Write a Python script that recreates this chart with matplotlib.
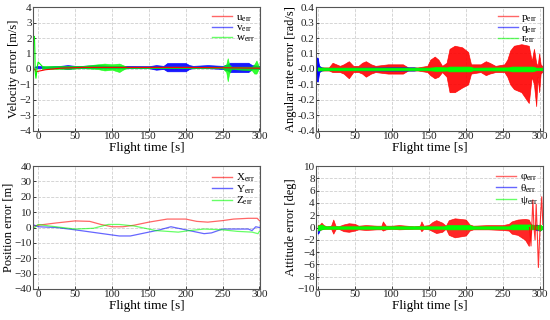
import matplotlib
matplotlib.use("Agg")
import matplotlib.pyplot as plt
from matplotlib.lines import Line2D
import numpy as np

plt.rcParams['font.family'] = ['Liberation Serif', 'DejaVu Serif']
plt.rcParams['mathtext.fontset'] = 'custom'
plt.rcParams['mathtext.rm'] = 'Liberation Serif'
plt.rcParams['mathtext.it'] = 'Liberation Serif:italic'

RED, BLUE, GREEN = '#ff0000', '#0000ff', '#00ff00'

# ---------------- Velocity error ----------------
u_t = [-5, -3, 0, 10, 30, 60, 100, 150, 200, 250, 300]
u_val = [0.0, -0.2, -0.15, -0.05, 0.05, 0.1, 0.1, 0.1, 0.1, 0.08, 0.05]

v_t = [-5, 0, 10, 30, 40, 50, 60, 80, 100, 120, 150, 160, 170, 175, 200, 205, 210, 230, 250, 257, 260, 285, 290, 300]
v_hi = [0.15, 0.2, 0.15, 0.2, 0.25, 0.2, 0.2, 0.25, 0.2, 0.2, 0.18, 0.25, 0.2, 0.38, 0.38, 0.25, 0.2, 0.25, 0.2, 0.3, 0.4, 0.4, 0.25, 0.2]
v_lo = [0.1, 0.05, 0.05, 0.05, 0.0, 0.05, 0.05, 0.05, 0.05, 0.05, 0.05, -0.05, 0.0, -0.15, -0.15, 0.0, 0.05, 0.05, 0.0, -0.1, -0.2, -0.2, 0.0, 0.0]

w_trace_t = [-5, -4.5, -4, -3, -2, -1, 0, 3, 5]
w_trace = [2.1, 1.2, -0.2, -0.6, -0.2, 0.2, 0.45, 0.3, 0.2]
w_t = [5, 20, 40, 60, 80, 90, 100, 110, 115, 120, 150, 170, 200, 230, 250, 255, 257, 259, 262, 290, 293, 296, 299, 301]
w_hi = [0.2, 0.2, 0.2, 0.2, 0.3, 0.35, 0.3, 0.35, 0.25, 0.15, 0.15, 0.15, 0.15, 0.15, 0.15, 0.3, 0.7, 0.3, 0.15, 0.15, 0.3, 0.55, 0.2, 0.1]
w_lo = [0.0, 0.0, 0.0, 0.05, 0.0, -0.1, -0.05, -0.2, -0.05, 0.05, 0.05, 0.05, 0.05, 0.05, 0.05, -0.2, -0.8, -0.3, 0.0, -0.1, -0.3, -0.3, 0.0, 0.0]

# ---------------- Angular rate error ----------------
p_t = [0, 15, 20, 30, 35, 42, 48, 55, 60, 65, 72, 78, 95, 115, 122, 135, 148, 152, 158, 163,
       168, 174, 178, 185, 195, 203, 207, 220, 227, 232, 240, 252, 256, 260, 265, 275, 285, 289, 292, 295,
       297, 299, 301, 303]
p_hi = [0.01, 0.01, 0.04, 0.02, 0.03, 0.05, 0.02, 0.02, 0.04, 0.05, 0.03, 0.02, 0.03, 0.03, 0.01, 0.01, 0.02, 0.06, 0.08, 0.06,
        0.02, 0.04, 0.13, 0.15, 0.14, 0.11, 0.03, 0.03, 0.05, 0.04, 0.02, 0.03, 0.06, 0.12, 0.15, 0.16, 0.15, 0.05, 0.13, 0.04,
        0.02, 0.10, 0.03, 0.02]
p_lo = [-0.01, -0.01, -0.02, -0.02, -0.03, -0.06, -0.02, -0.02, -0.03, -0.05, -0.03, -0.02, -0.03, -0.03, -0.01, -0.01, -0.02, -0.04, -0.06, -0.05,
        -0.02, -0.05, -0.15, -0.15, -0.12, -0.1, -0.03, -0.02, -0.04, -0.03, -0.02, -0.02, -0.05, -0.1, -0.13, -0.15, -0.22, -0.05, -0.1, -0.24,
        -0.05, -0.15, -0.03, -0.02]

q_t = [-2, -1, 0, 1, 2, 5, 10, 100, 130, 135, 300, 304]
q_hi = [0.0, 0.06, 0.07, 0.04, 0.02, 0.01, 0.005, 0.01, 0.01, 0.005, 0.005, 0.005]
q_lo = [0.0, -0.08, -0.08, -0.05, -0.02, -0.01, -0.005, -0.01, -0.01, -0.005, -0.005, -0.005]

r_t = [0, 10, 150, 160, 175, 178, 205, 210, 258, 262, 290, 295, 304]
r_hi = [0.01, 0.008, 0.008, 0.012, 0.01, 0.015, 0.015, 0.008, 0.01, 0.015, 0.015, 0.008, 0.008]
r_lo = [-0.01, -0.008, -0.008, -0.012, -0.01, -0.015, -0.015, -0.008, -0.01, -0.015, -0.015, -0.008, -0.008]

# ---------------- Position error ----------------
X_t = [-5, 0, 25, 50, 70, 85, 100, 115, 130, 150, 175, 200, 215, 230, 250, 265, 285, 297, 300]
X_val = [1, 1.5, 3, 4.3, 4, 2, 0.5, 0.5, 1.5, 3.5, 5.5, 5.5, 4, 3.5, 4.5, 5.5, 6, 6, 4.5]
Y_t = [-5, 0, 25, 50, 80, 110, 125, 150, 165, 180, 200, 225, 235, 250, 275, 285, 290, 295, 300]
Y_val = [1.5, 0.5, 0, -1.5, -3.5, -5.5, -5.5, -3, -1.5, 0.5, -1.5, -4, -3.5, -1, -1, -1, -2, 0.5, 0]
Z_t = [-5, 0, 15, 50, 75, 95, 110, 130, 160, 190, 205, 225, 250, 270, 290, 298, 300]
Z_val = [0, 2, 1, -1, -0.5, 2, 2, 1, -2, -3, -2, -1, -1.5, -2.5, -3, -4, -2.5]

# ---------------- Attitude error ----------------
phi_t = [0, 3, 5, 8, 12, 18, 21, 24, 28, 35, 42, 50, 55, 65, 80, 86, 88, 92, 100, 110,
         130, 138, 140, 143, 150, 155, 160, 168, 173, 177, 185, 200, 205, 210, 230, 250, 258, 262, 270, 280,
         285, 288]
phi_hi = [0.4, 0.5, 0.8, 0.4, 0.2, 0.3, 1.3, 0.3, 0.2, 0.5, 0.7, 0.6, 0.3, 0.4, 0.3, 0.3, 1.0, 0.3, 0.3, 0.4,
          0.2, 0.3, 1.0, 0.3, 0.4, 0.9, 1.2, 0.8, 0.3, 1.2, 1.5, 1.3, 0.5, 0.3, 0.4, 0.4, 0.6, 1.0, 1.3, 1.4,
          1.3, 0.5]
phi_lo = [-0.5, -0.4, -0.3, -0.2, -0.2, -0.2, -1.0, -0.3, -0.2, -0.6, -0.7, -0.5, -0.3, -0.4, -0.3, -0.3, -0.5, -0.3, -0.2, -0.3,
          -0.2, -0.2, -0.6, -0.2, -0.3, -0.6, -0.9, -0.7, -0.2, -1.2, -1.6, -1.3, -0.5, -0.3, -0.3, -0.4, -0.5, -1.0, -1.2, -2.0,
          -3.0, -0.5]
phi_trace_t = [286, 288, 290.5, 292, 293.5, 295, 296.5, 298, 299.5, 301, 302.5, 304]
phi_trace = [0, -3, 4.5, 0, -2, 3.8, -1, -6.5, -2, 2, 5, 0.5]

th_t = [0, 1, 3, 8, 20, 290, 295, 300, 304]
th_hi = [0.0, -0.3, 0.2, 0.1, 0.1, 0.1, 0.5, 0.3, 0.1]
th_lo = [-1.0, -0.9, -0.3, -0.1, -0.1, -0.1, -0.4, -0.5, -0.1]

psi_t = [0, 5, 10, 170, 175, 205, 210, 258, 262, 290, 295, 300, 304]
psi_hi = [0.3, 0.5, 0.2, 0.2, 0.4, 0.4, 0.2, 0.2, 0.5, 0.5, 0.3, 0.5, 0.2]
psi_lo = [-0.5, -0.3, -0.2, -0.2, -0.3, -0.3, -0.2, -0.2, -0.3, -0.3, -0.2, -0.5, -0.2]

x_ticks = [0, 50, 100, 150, 200, 250, 300]

fig = plt.figure(figsize=(5.5, 3.2), dpi=100)
ax_v = fig.add_axes([0.06, 0.591, 0.413, 0.387])
ax_w = fig.add_axes([0.575, 0.591, 0.412, 0.387])
ax_p = fig.add_axes([0.06, 0.097, 0.413, 0.384])
ax_a = fig.add_axes([0.575, 0.097, 0.412, 0.384])


def style(ax, xlim, ylim, yticks, ylabel, yfmt=None):
    ax.set_xlim(*xlim)
    ax.set_ylim(*ylim)
    ax.set_xticks(x_ticks)
    ax.set_yticks(yticks)
    if yfmt:
        ax.set_yticklabels([yfmt.format(v) for v in yticks])
    ax.grid(True, color='#cfcfcf', linestyle='--', linewidth=0.6)
    ax.set_axisbelow(True)
    for s in ax.spines.values():
        s.set_color('#555555')
        s.set_linewidth(0.8)
    ax.tick_params(direction='in', length=2, width=0.6, labelsize=8, pad=1, colors='#222222')
    ax.set_xlabel('Flight time [s]', fontsize=9.5, labelpad=0.5)
    ax.set_ylabel(ylabel, fontsize=9, labelpad=0)


def legend(ax, labels, alpha=0.6):
    handles = [Line2D([], [], color=c, lw=1, alpha=alpha) for c in (RED, BLUE, GREEN)]
    ax.legend(handles, labels, loc='upper right', frameon=False, fontsize=8,
              handlelength=1.8, handletextpad=0.3, labelspacing=-0.1, borderaxespad=0.1)


# Velocity
ax_v.plot(u_t, u_val, color=RED, lw=0.8)
ax_v.fill_between(v_t, v_lo, v_hi, color=BLUE, lw=0.5, alpha=0.9)
ax_v.plot(w_trace_t, w_trace, color=GREEN, lw=0.8)
ax_v.fill_between(w_t, w_lo, w_hi, color=GREEN, lw=0.4, alpha=0.8)
style(ax_v, (-7, 301), (-4, 4), list(range(-4, 5)), 'Velocity error [m/s]')
legend(ax_v, [r'u$_{\mathrm{err}}$', r'v$_{\mathrm{err}}$', r'w$_{\mathrm{err}}$'])

# Angular rate
ax_w.fill_between(p_t, p_lo, p_hi, color=RED, lw=0.5, alpha=0.9)
ax_w.fill_between(q_t, q_lo, q_hi, color=BLUE, lw=0.6)
ax_w.fill_between(r_t, r_lo, r_hi, color=GREEN, lw=0.6)
ax_w.plot(q_t[:4], q_hi[:4], color=BLUE, lw=0.8)
style(ax_w, (-2, 304), (-0.4, 0.4), [round(v, 1) for v in np.arange(-0.4, 0.41, 0.1)],
      'Angular rate error [rad/s]', yfmt='{:.1f}')
legend(ax_w, [r'p$_{\mathrm{err}}$', r'q$_{\mathrm{err}}$', r'r$_{\mathrm{err}}$'])

# Position
ax_p.plot(X_t, X_val, color=RED, lw=0.9, alpha=0.6)
ax_p.plot(Y_t, Y_val, color=BLUE, lw=0.9, alpha=0.6)
ax_p.plot(Z_t, Z_val, color=GREEN, lw=0.9, alpha=0.6)
style(ax_p, (-7, 301), (-40, 40), list(range(-40, 41, 10)), 'Position error [m]')
legend(ax_p, [r'X$_{\mathrm{err}}$', r'Y$_{\mathrm{err}}$', r'Z$_{\mathrm{err}}$'])

# Attitude
ax_a.fill_between(phi_t, phi_lo, phi_hi, color=RED, lw=0.5, alpha=0.85)
ax_a.plot(phi_trace_t, phi_trace, color=RED, lw=0.8, alpha=0.8)
ax_a.fill_between(th_t, th_lo, th_hi, color=BLUE, lw=0.5)
ax_a.fill_between(psi_t, psi_lo, psi_hi, color=GREEN, lw=0.5)
style(ax_a, (-2, 304), (-10, 10), list(range(-10, 11, 2)), 'Attitude error [deg]')
legend(ax_a, ['φ' + r'$_{\mathrm{err}}$', 'θ' + r'$_{\mathrm{err}}$', 'ψ' + r'$_{\mathrm{err}}$'])

fig.savefig('out.png', dpi=100)
